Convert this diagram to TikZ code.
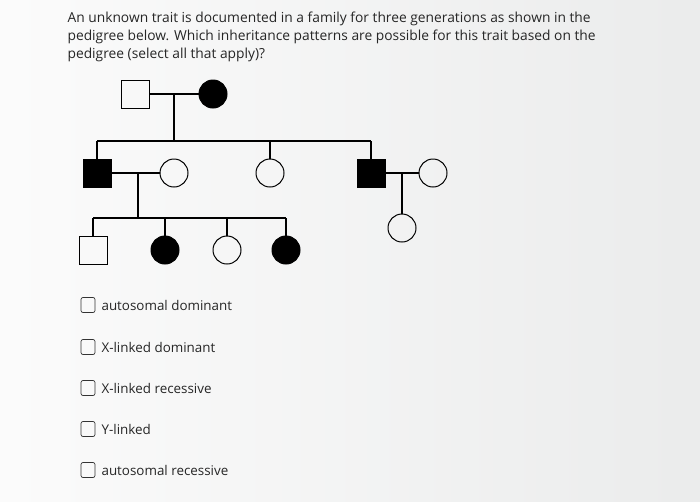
\documentclass[tikz,border=0pt]{standalone}
\usepackage{fontspec}
\setmainfont{Open Sans}
\begin{document}
\begin{tikzpicture}[x=1pt,y=-1pt,
  line width=1.1pt,
  male/.style={draw=black,minimum size=28pt,inner sep=0pt,line width=1pt},
  female/.style={draw=black,circle,minimum size=28pt,inner sep=0pt,line width=1pt},
  aff/.style={fill=black},
  txt/.style={anchor=west,inner sep=0pt,font=\fontsize{13.8}{16}\selectfont,text=black!85},
  otxt/.style={anchor=west,inner sep=0pt,font=\fontsize{13.4}{16}\selectfont,text=black!85},
  cbox/.style={draw=black!80,rounded corners=2pt,minimum width=14pt,minimum height=15pt,inner sep=0pt,line width=0.7pt}]
\shade[left color=white!97!gray,right color=blue!6!cyan!5!black!8!white] (0,0) rectangle (700,501);
\useasboundingbox (0,0) rectangle (700,501);
\node[txt] (t1) at (67,19) {An unknown trait is documented in a family for three generations as shown in the};
\node[txt] (t2) at (67,37) {pedigree below. Which inheritance patterns are possible for this trait based on the};
\node[txt] (t3) at (67,55) {pedigree (select all that apply)?};
% gen 1
\node[male] (g1m) at (135,94) {};
\node[female,aff] (g1f) at (213,94) {};
% gen 2
\node[male,aff] (a) at (97,173) {};
\node[female] (aw) at (174,173) {};
\node[female] (b) at (270,173) {};
\node[male,aff] (c) at (371,173) {};
\node[female] (cw) at (433,173) {};
% gen 3
\node[male] (d1) at (93,250) {};
\node[female,aff] (d2) at (165,250) {};
\node[female] (d3) at (227,250) {};
\node[female,aff] (d4) at (286,250) {};
\node[female] (e1) at (402,228) {};
\coordinate (m1) at (174,94);
\coordinate (s1) at (174,141);
\coordinate (m2) at (138,173);
\coordinate (s2) at (138,218);
\coordinate (m3) at (402,173);
\draw (g1m) -- (g1f);
\draw (m1) -- (s1);
\draw (a.north |- s1) -- (c.north |- s1);
\draw (a.north |- s1) -- (a.north);
\draw (b.north |- s1) -- (b.north);
\draw (c.north |- s1) -- (c.north);
\draw (a) -- (aw);
\draw (c) -- (cw);
\draw (m2) -- (s2);
\draw (d1.north |- s2) -- (d4.north |- s2);
\foreach \n in {d1,d2,d3,d4} \draw (\n.north |- s2) -- (\n.north);
\draw (m3) -- (e1.north);
% options
\foreach \y/\t/\n in {305/autosomal dominant/o1,347/X-linked dominant/o2,388/X-linked recessive/o3,429/Y-linked/o4,470/autosomal recessive/o5}{
  \node[cbox] (\n b) at (88,\y) {};
  \node[otxt] (\n) at (101,\y) {\t};
}
\end{tikzpicture}
\end{document}
